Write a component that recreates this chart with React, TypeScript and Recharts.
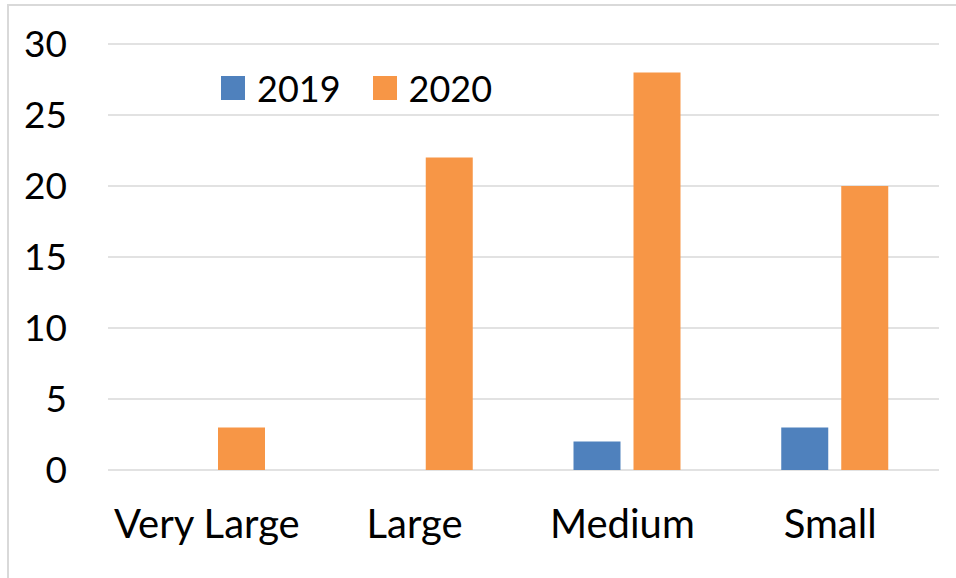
import React from 'react';
import { BarChart, Bar, XAxis, YAxis, CartesianGrid, Legend } from 'recharts';

const categories = ['Very Large', 'Large', 'Medium', 'Small'];
const values2019 = [0, 0, 2, 3];
const values2020 = [3, 22, 28, 20];
const yTicks = [0, 5, 10, 15, 20, 25, 30];
const seriesNames = ['2019', '2020'];
const seriesColors = ['#4F81BD', '#F79646'];

const data = categories.map((c, i) => ({
  name: c,
  [seriesNames[0]]: values2019[i],
  [seriesNames[1]]: values2020[i],
}));

const FONT = 'Lato, "Open Sans", sans-serif';

const LegendContent = () => (
  <div style={{ display: 'flex', alignItems: 'center', fontFamily: FONT, fontSize: 36, color: '#000', lineHeight: '36px' }}>
    {seriesNames.map((n, i) => (
      <div key={n} style={{ display: 'flex', alignItems: 'center', marginRight: i === 0 ? 32 : 0 }}>
        <div style={{ width: 24, height: 24, background: seriesColors[i], marginRight: 12 }} />
        <span>{n}</span>
      </div>
    ))}
  </div>
);

export default function App() {
  return (
    <div style={{ position: 'absolute', left: 0, top: 0, width: 956, height: 578, background: '#fff', overflow: 'hidden' }}>
      <div
        style={{
          position: 'absolute',
          left: 7,
          top: 4,
          width: 949,
          height: 574,
          borderTop: '2px solid #d9d9d9',
          borderLeft: '2px solid #d9d9d9',
          boxSizing: 'border-box',
        }}
      />
      <div style={{ position: 'absolute', left: 0, top: 0 }}>
        <BarChart
          width={956}
          height={578}
          data={data}
          margin={{ top: 44, right: 17, bottom: 0, left: 0 }}
          barSize={47}
          barGap={13}
        >
          <CartesianGrid vertical={false} stroke="#d9d9d9" strokeWidth={1.5} />
          <XAxis
            dataKey="name"
            height={108}
            axisLine={false}
            tickLine={false}
            tickSize={0}
            tickMargin={40}
            tick={{ fill: '#000', fontSize: 40, fontFamily: FONT, dx: -5 }}
          />
          <YAxis
            width={108}
            domain={[0, 30]}
            ticks={yTicks}
            axisLine={false}
            tickLine={false}
            tickSize={0}
            tickMargin={41}
            tick={{ fill: '#000', fontSize: 37, fontFamily: FONT }}
          />
          <Legend
            content={<LegendContent />}
            wrapperStyle={{ position: 'absolute', left: 221, top: 70, width: 'auto', height: 0, overflow: 'visible' }}
          />
          <Bar dataKey={seriesNames[0]} fill={seriesColors[0]} isAnimationActive={false} />
          <Bar dataKey={seriesNames[1]} fill={seriesColors[1]} isAnimationActive={false} />
        </BarChart>
      </div>
    </div>
  );
}
